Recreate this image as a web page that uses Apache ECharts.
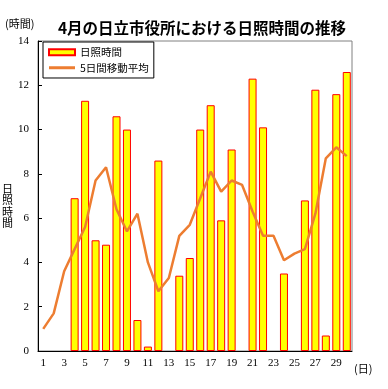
<!DOCTYPE html>
<html><head><meta charset="utf-8">
<script src="https://cdn.jsdelivr.net/npm/echarts@6/dist/echarts.min.js"></script>
<style>html,body{margin:0;padding:0;background:#fff}#c{width:388px;height:389px}</style>
</head><body><div id="c"></div>
<script>
var days = ['1','2','3','4','5','6','7','8','9','10','11','12','13','14','15','16','17','18','19','20','21','22','23','24','25','26','27','28','29','30'];
var sunshine = [0,0,0,6.9,11.3,5.0,4.8,10.6,10.0,1.4,0.2,8.6,0,3.4,4.2,10.0,11.1,5.9,9.1,0,12.3,10.1,0,3.5,0,6.8,11.8,0.7,11.6,12.6];
var movingAvg = [1.0,1.7,3.6,4.6,5.6,7.7,8.3,6.4,5.4,6.2,4.0,2.7,3.3,5.2,5.7,6.9,8.1,7.2,7.7,7.5,6.3,5.2,5.2,4.1,4.4,4.6,6.2,8.7,9.2,8.8];
var yTicks = {min:0, max:14, interval:2};
var yName = ['日','照','時','間'];

var cjk = '"Noto Sans CJK JP", sans-serif';
var serif = '"Liberation Serif", "DejaVu Serif", serif';
var chart = echarts.init(document.getElementById('c'));
var graphics = [
  {type:'text', left:5, top:18, style:{text:'(時間)', font:'11px '+cjk, fill:'#000'}},
  {type:'text', left:354, top:363, style:{text:'(日)', font:'11px '+cjk, fill:'#000'}}
];
yName.forEach(function(ch, i){
  graphics.push({type:'text', left:2, top:183 + i*11.5, style:{text:ch, font:'11px '+cjk, fill:'#000'}});
});
chart.setOption({
  animation:false,
  backgroundColor:'#fff',
  title:{text:'4月の日立市役所における日照時間の推移', left:197, textAlign:'center', top:15,
    textStyle:{fontFamily:cjk, fontSize:15.5, fontWeight:'bold', color:'#000'}},
  grid:{left:38, right:36, top:41, bottom:38, show:true, borderColor:'#808080', borderWidth:1, backgroundColor:'transparent'},
  legend:{orient:'vertical', left:43, top:42, padding:[5,5,5,5], itemGap:5, itemWidth:26, itemHeight:6,
    backgroundColor:'#fff', borderColor:'#000', borderWidth:1, borderRadius:0,
    textStyle:{fontFamily:cjk, fontSize:10.5, color:'#000'},
    data:[{name:'日照時間', icon:'rect'},
          {name:'5日間移動平均', icon:'path://M0,0L26,0L26,3L0,3Z', itemStyle:{color:'#ED7D31', borderWidth:0}}]},
  xAxis:{type:'category', data:days, boundaryGap:true,
    axisLine:{lineStyle:{color:'#000', width:1}},
    axisTick:{inside:true, length:3, interval:0, lineStyle:{color:'#000'}},
    axisLabel:{interval:1, margin:7, fontFamily:serif, fontSize:11, color:'#000'}},
  yAxis:{type:'value', min:yTicks.min, max:yTicks.max, interval:yTicks.interval,
    axisLine:{show:true, lineStyle:{color:'#000', width:1}},
    axisTick:{show:true, inside:true, length:4, lineStyle:{color:'#000'}},
    splitLine:{show:false},
    axisLabel:{margin:9, fontFamily:serif, fontSize:11, color:'#000'}},
  graphic:graphics,
  series:[
    {name:'日照時間', type:'bar', data:sunshine.map(function(v){return v===0?'-':v;}), barWidth:8,
      itemStyle:{color:'#FFFF00', borderColor:'#FF0000', borderWidth:1}},
    {name:'5日間移動平均', type:'line', data:movingAvg, symbol:'none', z:5,
      lineStyle:{color:'#ED7D31', width:2.5}, itemStyle:{color:'#ED7D31'}}
  ]
});
</script></body></html>
